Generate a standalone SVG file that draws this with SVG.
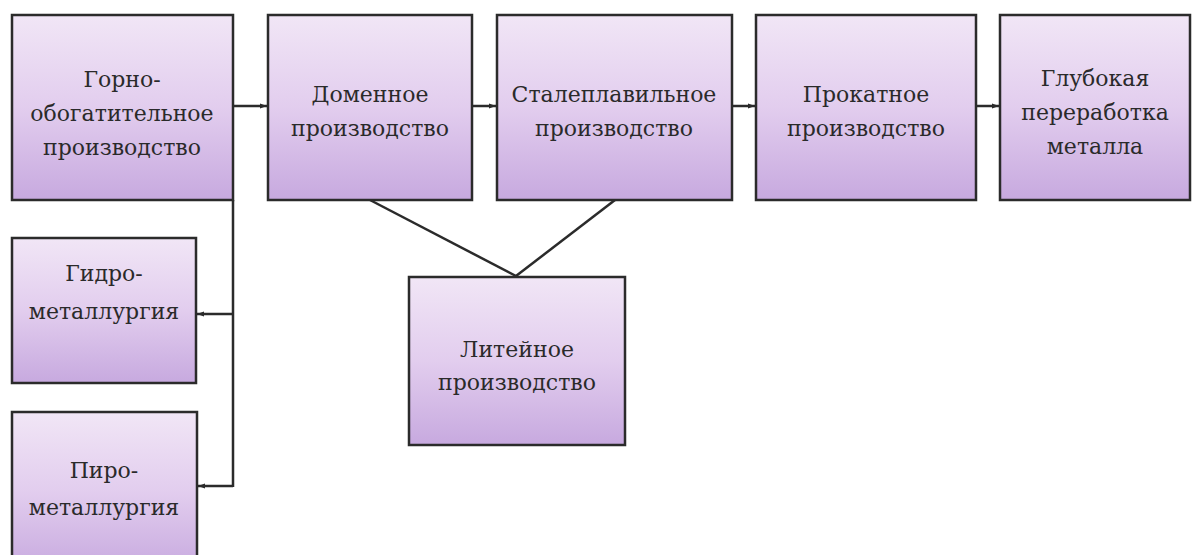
<svg xmlns="http://www.w3.org/2000/svg" width="1195" height="555" viewBox="0 0 1195 555">
<defs>
<linearGradient id="g" x1="0" y1="0" x2="0" y2="1">
<stop offset="0" stop-color="#f1e6f6"/>
<stop offset="0.5" stop-color="#e2cdee"/>
<stop offset="1" stop-color="#c7a9df"/>
</linearGradient>
<marker id="ah" viewBox="0 0 10 10" refX="10" refY="5" markerWidth="8" markerHeight="7" orient="auto" markerUnits="userSpaceOnUse">
<path d="M0,1.5 L10,5 L0,8.5 z" fill="#2a2a2a"/>
</marker>
<style>
.box{fill:url(#g);stroke:#2b2b2b;stroke-width:2.5}
text{font-family:'DejaVu Serif', serif;font-size:22px;fill:#2a2a2a;text-anchor:middle}
.c{fill:none;stroke:#2b2b2b;stroke-width:2.5}
</style>
</defs>
<rect width="1195" height="555" fill="#ffffff"/>
<g id="connectors">
<line class="c" x1="233" y1="106" x2="267" y2="106" marker-end="url(#ah)"/>
<line class="c" x1="472" y1="106" x2="496" y2="106" marker-end="url(#ah)"/>
<line class="c" x1="732" y1="106" x2="755" y2="106" marker-end="url(#ah)"/>
<line class="c" x1="976" y1="106" x2="999" y2="106" marker-end="url(#ah)"/>
<line class="c" x1="233" y1="200" x2="233" y2="487"/>
<line class="c" x1="233" y1="314" x2="197" y2="314" marker-end="url(#ah)"/>
<line class="c" x1="233" y1="486" x2="198" y2="486" marker-end="url(#ah)"/>
<line class="c" x1="370" y1="200" x2="516" y2="276"/>
<line class="c" x1="615" y1="200" x2="516" y2="276"/>
</g>
<g id="n1"><rect class="box" x="12" y="15" width="221" height="185"/>
<text x="122" y="87">Горно-</text><text x="122" y="121">обогатительное</text><text x="122" y="155">производство</text></g>
<g id="n2"><rect class="box" x="268" y="15" width="204" height="185"/>
<text x="370" y="102">Доменное</text><text x="370" y="136">производство</text></g>
<g id="n3"><rect class="box" x="497" y="15" width="235" height="185"/>
<text x="614" y="102">Сталеплавильное</text><text x="614" y="136">производство</text></g>
<g id="n4"><rect class="box" x="756" y="15" width="220" height="185"/>
<text x="866" y="102">Прокатное</text><text x="866" y="136">производство</text></g>
<g id="n5"><rect class="box" x="1000" y="15" width="190" height="185"/>
<text x="1095" y="86">Глубокая</text><text x="1095" y="120">переработка</text><text x="1095" y="154">металла</text></g>
<g id="n6"><rect class="box" x="12" y="238" width="184" height="145"/>
<text x="104" y="281">Гидро-</text><text x="104" y="319">металлургия</text></g>
<g id="n7"><rect class="box" x="12" y="412" width="185" height="160"/>
<text x="104" y="478">Пиро-</text><text x="104" y="515">металлургия</text></g>
<g id="n8"><rect class="box" x="409" y="277" width="216" height="168"/>
<text x="517" y="357">Литейное</text><text x="517" y="390">производство</text></g>
</svg>
